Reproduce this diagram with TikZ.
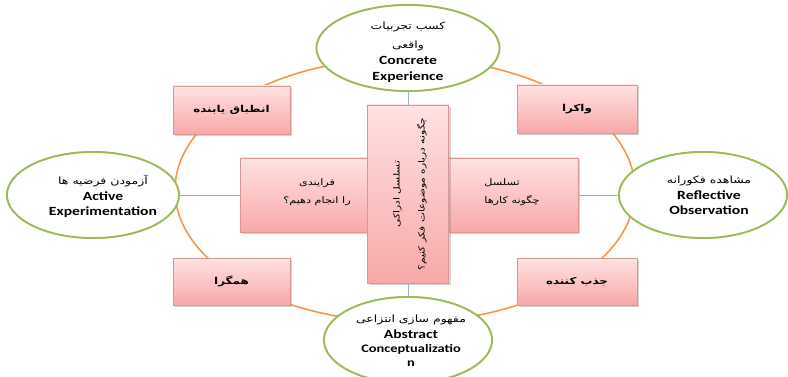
\documentclass[tikz,border=0pt]{standalone}
\usepackage{fontspec}
\TeXXeTstate=1
\newfontfamily\arabicfont[Script=Arabic,FakeStretch=1.25]{DejaVu Sans}
\newfontfamily\latfont[FakeStretch=1.25]{Carlito}
\usetikzlibrary{shadows,shapes.geometric}
\newcommand\fa[1]{{\arabicfont\beginR #1\endR}}
\newcommand\fab[1]{{\arabicfont\bfseries\beginR #1\endR}}
\newcommand\lt[1]{{\latfont\bfseries\fontsize{12.5}{14}\selectfont #1}}
\definecolor{ringorange}{HTML}{F79646}
\definecolor{ellgreen}{HTML}{9BBB59}
\definecolor{linkblue}{HTML}{95B3D7}
\definecolor{boxtop}{HTML}{FFE2E2}
\definecolor{boxbot}{HTML}{F8A8A8}
\definecolor{boxedge}{HTML}{D99694}
\tikzset{
  ring/.style={draw=ringorange, line width=1.6pt},
  link/.style={draw=linkblue, line width=0.8pt},
  ell/.style={ellipse, draw=ellgreen, line width=1.8pt, fill=white, inner sep=0pt},
  elltext/.style={align=center, inner sep=0pt, font=\fontsize{10}{18}\selectfont},
  pinkbox/.style={rectangle, draw=boxedge, line width=0.6pt, top color=boxtop, bottom color=boxbot,
     drop shadow={shadow xshift=2pt, shadow yshift=-2pt, opacity=0.35}, inner sep=0pt},
  boxtext/.style={align=center, inner sep=0pt, font=\fontsize{9.5}{18}\selectfont}
}
\begin{document}
\begin{tikzpicture}[x=1pt,y=-1pt]
\useasboundingbox (0,0) rectangle (788,377);
% outer ring
\draw[ring] (405,190) ellipse [x radius=230pt, y radius=132pt];
% ellipses (nodes first for connectors)
\node[ell, minimum width=183pt, minimum height=86pt] (ce) at (408,48) {};
\node[ell, minimum width=172pt, minimum height=86pt] (ae) at (93,195) {};
\node[ell, minimum width=168pt, minimum height=86pt] (ro) at (703,195) {};
\node[ell, minimum width=168pt, minimum height=86pt] (ac) at (408,340) {};
% boxes
\node[pinkbox, minimum width=140pt, minimum height=74pt] (lb) at (310,195) {};
\node[pinkbox, minimum width=130pt, minimum height=74pt] (rb) at (513,195) {};
\node[pinkbox, minimum width=81pt, minimum height=178pt] (cb) at (408,194) {};
\node[pinkbox, minimum width=117pt, minimum height=48pt] (tl) at (231.5,110) {};
\node[pinkbox, minimum width=120pt, minimum height=48pt] (tr) at (577,109) {};
\node[pinkbox, minimum width=117pt, minimum height=47pt] (bl) at (231.5,281.5) {};
\node[pinkbox, minimum width=120pt, minimum height=47pt] (br) at (577,281.5) {};
% connectors
\draw[link] (ce.south) -- (cb.north);
\draw[link] (cb.south) -- (ac.north);
\draw[link] (ae.east) -- (lb.west);
\draw[link] (rb.east) -- (ro.west);
% redraw ellipses over ring
\node[ell, minimum width=183pt, minimum height=86pt] at (ce) {};
\node[ell, minimum width=172pt, minimum height=86pt] at (ae) {};
\node[ell, minimum width=168pt, minimum height=86pt] at (ro) {};
\node[ell, minimum width=168pt, minimum height=86pt] at (ac) {};
% ellipse texts
\node[elltext] (cet) at (408,52) {\fa{کسب تجربیات}\\[1pt]\fa{واقعی}\\[-2pt]\lt{Concrete}\\[-2pt]\lt{Experience}};
\node[elltext] (aet) at (103,196) {\fa{آزمودن فرضیه ها}\\[-2pt]\lt{Active}\\[-3pt]\lt{Experimentation}};
\node[elltext] (rot) at (709,195) {\fa{مشاهده فکورانه}\\[-2pt]\lt{Reflective}\\[-3pt]\lt{Observation}};
\node[elltext] (act) at (411,341) {\fa{مفهوم سازی انتزاعی}\\[-2pt]\lt{Abstract}\\[-4pt]{\latfont\bfseries\fontsize{11.5}{14}\selectfont Conceptualizatio}\\[-4pt]{\latfont\bfseries\fontsize{11.5}{14}\selectfont n}};
% box texts
\node[boxtext] (tlt) at (tl) {\fab{انطباق یابنده}};
\node[boxtext] (trt) at (tr) {\fab{واکرا}};
\node[boxtext] (blt) at (bl) {\fab{همگرا}};
\node[boxtext] (brt) at (br) {\fab{جذب کننده}};
\node[boxtext, font=\fontsize{9}{18}\selectfont] (lbt) at (317,192) {\fa{فرایندی}\\\fa{را انجام دهیم؟}};
\node[boxtext, align=left, font=\fontsize{9}{18}\selectfont] (rbt) at (512,192) {\fa{تسلسل}\\\fa{چگونه کارها}};
\node[boxtext, rotate=90, font=\fontsize{8.5}{25}\selectfont] (cbt) at (410,194) {\fa{تسلسل ادراکی}\\\fa{چگونه درباره موضوعات فکر کنیم؟}};
\end{tikzpicture}
\end{document}
